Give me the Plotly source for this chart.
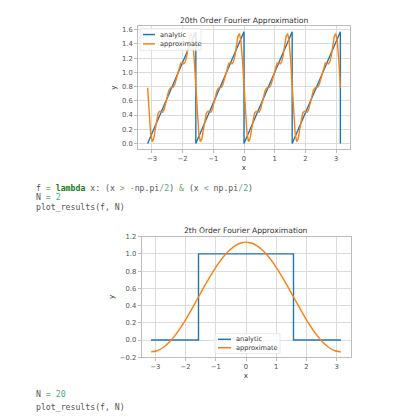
import plotly.graph_objects as go

# ---------------- data: chart 1 (20th order, sawtooth) ----------------
saw_x_analytic = [-3.1416, -1.5708, -1.5708, 0.0, 0.0, 1.5708, 1.5708, 3.1416, 3.1416]
saw_y_analytic = [0.0, 1.5708, 0.0, 1.5708, 0.0, 1.5708, 0.0, 1.5708, 0.0]

saw_x_approx = [
    -3.142, -3.093, -3.043, -2.994, -2.945, -2.896, -2.847, -2.798, -2.749, -2.700,
    -2.651, -2.601, -2.552, -2.503, -2.454, -2.405, -2.356, -2.307, -2.258, -2.209,
    -2.160, -2.111, -2.062, -2.013, -1.963, -1.914, -1.865, -1.816, -1.767, -1.718,
    -1.669, -1.620, -1.571, -1.522, -1.473, -1.424, -1.374, -1.325, -1.276, -1.227,
    -1.178, -1.129, -1.080, -1.031, -0.982, -0.933, -0.884, -0.834, -0.785, -0.736,
    -0.687, -0.638, -0.589, -0.540, -0.491, -0.442, -0.393, -0.344, -0.295, -0.245,
    -0.196, -0.147, -0.098, -0.049, 0.000, 0.049, 0.098, 0.147, 0.196, 0.245,
    0.295, 0.344, 0.393, 0.442, 0.491, 0.540, 0.589, 0.638, 0.687, 0.736,
    0.785, 0.834, 0.884, 0.933, 0.982, 1.031, 1.080, 1.129, 1.178, 1.227,
    1.276, 1.325, 1.374, 1.424, 1.473, 1.522, 1.571, 1.620, 1.669, 1.718,
    1.767, 1.816, 1.865, 1.914, 1.963, 2.013, 2.062, 2.111, 2.160, 2.209,
    2.258, 2.307, 2.356, 2.405, 2.454, 2.503, 2.552, 2.601, 2.651, 2.700,
    2.749, 2.798, 2.847, 2.896, 2.945, 2.994, 3.043, 3.093, 3.142,
]
saw_y_approx = [
    0.785, 0.411, 0.138, 0.025, 0.064, 0.195, 0.336, 0.426, 0.452, 0.441,
    0.439, 0.480, 0.564, 0.664, 0.742, 0.779, 0.785, 0.792, 0.829, 0.907,
    1.007, 1.091, 1.132, 1.130, 1.119, 1.145, 1.235, 1.376, 1.507, 1.546,
    1.433, 1.160,
    0.785, 0.411, 0.138, 0.025, 0.064, 0.195, 0.336, 0.426, 0.452, 0.441,
    0.439, 0.480, 0.564, 0.664, 0.742, 0.779, 0.785, 0.792, 0.829, 0.907,
    1.007, 1.091, 1.132, 1.130, 1.119, 1.145, 1.235, 1.376, 1.507, 1.546,
    1.433, 1.160,
    0.785, 0.411, 0.138, 0.025, 0.064, 0.195, 0.336, 0.426, 0.452, 0.441,
    0.439, 0.480, 0.564, 0.664, 0.742, 0.779, 0.785, 0.792, 0.829, 0.907,
    1.007, 1.091, 1.132, 1.130, 1.119, 1.145, 1.235, 1.376, 1.507, 1.546,
    1.433, 1.160,
    0.785, 0.411, 0.138, 0.025, 0.064, 0.195, 0.336, 0.426, 0.452, 0.441,
    0.439, 0.480, 0.564, 0.664, 0.742, 0.779, 0.785, 0.792, 0.829, 0.907,
    1.007, 1.091, 1.132, 1.130, 1.119, 1.145, 1.235, 1.376, 1.507, 1.546,
    1.433, 1.160,
    0.785,
]

# ---------------- data: chart 2 (2th order, square pulse) ----------------
sq_x_analytic = [-3.1416, -1.5708, -1.5708, 1.5708, 1.5708, 3.1416]
sq_y_analytic = [0.0, 0.0, 1.0, 1.0, 0.0, 0.0]

sq_x_approx = [-3.14, -2.94, -2.74, -2.54, -2.34, -2.14, -1.94, -1.74, -1.54, -1.34,
               -1.14, -0.94, -0.74, -0.54, -0.34, -0.14, 0.0, 0.14, 0.34, 0.54,
               0.74, 0.94, 1.14, 1.34, 1.54, 1.74, 1.94, 2.14, 2.34, 2.54,
               2.74, 2.94, 3.14]
sq_y_approx = [-0.137, -0.124, -0.086, -0.025, 0.057, 0.156, 0.270, 0.393, 0.520, 0.646,
               0.766, 0.875, 0.970, 1.046, 1.100, 1.130, 1.137, 1.130, 1.100, 1.046,
               0.970, 0.875, 0.766, 0.646, 0.520, 0.393, 0.270, 0.156, 0.057, -0.025,
               -0.086, -0.124, -0.137]

x_ticks = [-3, -2, -1, 0, 1, 2, 3]
y_ticks_1 = [0.0, 0.2, 0.4, 0.6, 0.8, 1.0, 1.2, 1.4, 1.6]
y_ticks_2 = [-0.2, 0.0, 0.2, 0.4, 0.6, 0.8, 1.0, 1.2]

titles = ["20th Order Fourier Approximation", "2th Order Fourier Approximation"]
series_names = ["analytic", "approximate"]

# ---------------- style ----------------
BLUE = "#1f77b4"
ORANGE = "#ff7f0e"
COLORS = [BLUE, ORANGE]
W, H = 399, 419
FONT = "DejaVu Sans"
MONO = "DejaVu Sans Mono"
TICK_COLOR = "#555555"
TEXT = "#333333"
GRID = "#dcdcdc"
SPINE = "#bdbdbd"


def px(v):
    return v / W


def py(v):
    return 1 - v / H


def fmt(v, d=1):
    return f"{v:.{d}f}".replace("-", "\u2212")


fig = go.Figure()

fig.add_trace(go.Scatter(x=saw_x_analytic, y=saw_y_analytic, mode="lines", name=series_names[0],
                         line=dict(color=BLUE, width=1.4), xaxis="x", yaxis="y"))
fig.add_trace(go.Scatter(x=saw_x_approx, y=saw_y_approx, mode="lines", name=series_names[1],
                         line=dict(color=ORANGE, width=1.4), xaxis="x", yaxis="y"))
fig.add_trace(go.Scatter(x=sq_x_analytic, y=sq_y_analytic, mode="lines", name=series_names[0],
                         line=dict(color=BLUE, width=1.4), xaxis="x2", yaxis="y2"))
fig.add_trace(go.Scatter(x=sq_x_approx, y=sq_y_approx, mode="lines", name=series_names[1],
                         line=dict(color=ORANGE, width=1.4, shape="spline"), xaxis="x2", yaxis="y2"))

axis_common = dict(
    showgrid=True, gridcolor=GRID, gridwidth=0.8,
    showline=True, linecolor=SPINE, linewidth=0.8, mirror=True,
    ticks="outside", ticklen=3, tickcolor=SPINE, tickwidth=0.8,
    tickfont=dict(family=FONT, size=6.8, color=TICK_COLOR),
    zeroline=False,
)

fig.update_layout(
    width=W, height=H,
    margin=dict(l=0, r=0, t=0, b=0),
    paper_bgcolor="white", plot_bgcolor="white",
    font=dict(family=FONT, color=TEXT),
    showlegend=False,
    xaxis=dict(domain=[px(130), px(342)], range=[-3.456, 3.456], anchor="y",
               tickvals=x_ticks, ticktext=[fmt(v, 0) for v in x_ticks],
               title=dict(text="x", font=dict(size=7.2, color=TEXT), standoff=1),
               **axis_common),
    yaxis=dict(domain=[py(139.7), py(14.5)], range=[-0.0785, 1.649], anchor="x",
               tickvals=y_ticks_1, ticktext=[fmt(v) for v in y_ticks_1],
               title=dict(text="y", font=dict(size=7.2, color=TEXT), standoff=4),
               **axis_common),
    xaxis2=dict(domain=[px(133.5), px(342.5)], range=[-3.456, 3.456], anchor="y2",
                tickvals=x_ticks, ticktext=[fmt(v, 0) for v in x_ticks],
                title=dict(text="x", font=dict(size=7.2, color=TEXT), standoff=1),
                **axis_common),
    yaxis2=dict(domain=[py(352), py(229)], range=[-0.2, 1.2007], anchor="x2",
                tickvals=y_ticks_2, ticktext=[fmt(v) for v in y_ticks_2],
                title=dict(text="y", font=dict(size=7.2, color=TEXT), standoff=4),
                **axis_common),
)

# chart titles
fig.add_annotation(text=titles[0], x=px(236), y=py(9), xref="paper", yref="paper",
                   showarrow=False, xanchor="center", yanchor="middle",
                   font=dict(family=FONT, size=7.6, color=TEXT))
fig.add_annotation(text=titles[1], x=px(238), y=py(223), xref="paper", yref="paper",
                   showarrow=False, xanchor="center", yanchor="middle",
                   font=dict(family=FONT, size=7.6, color=TEXT))


# legends (matplotlib-style boxes)
def add_legend(box, line_x0, line_x1, text_x, rows):
    x0, y0, x1, y1 = box
    fig.add_shape(type="rect", xref="paper", yref="paper",
                  x0=px(x0), x1=px(x1), y0=py(y1), y1=py(y0),
                  fillcolor="rgba(255,255,255,0.85)", line=dict(color="#e2e2e2", width=0.8),
                  layer="above")
    for (yy, name, col) in rows:
        fig.add_shape(type="line", xref="paper", yref="paper",
                      x0=px(line_x0), x1=px(line_x1), y0=py(yy), y1=py(yy),
                      line=dict(color=col, width=1.5), layer="above")
        fig.add_annotation(text=name, x=px(text_x), y=py(yy), xref="paper", yref="paper",
                           showarrow=False, xanchor="left", yanchor="middle",
                           font=dict(family=FONT, size=6.6, color=TEXT))


add_legend((132, 17, 193, 39), 135, 147, 150,
           [(23, series_names[0], COLORS[0]), (32.5, series_names[1], COLORS[1])])
add_legend((207, 328, 272, 348), 210, 223, 226,
           [(333.7, series_names[0], COLORS[0]), (342.3, series_names[1], COLORS[1])])

# notebook code cells
CODE = "#555555"
KW = "#1a801a"
OP = "#66aa66"
NUM = "#44aa88"
code_lines = [
    (179, f"f <span style='color:{OP}'>=</span> <span style='color:{KW}'><b>lambda</b></span> x: (x <span style='color:{OP}'>&gt;</span> <span style='color:{OP}'>-</span>np.pi<span style='color:{OP}'>/</span><span style='color:{NUM}'>2</span>) <span style='color:{OP}'>&amp;</span> (x <span style='color:{OP}'>&lt;</span> np.pi<span style='color:{OP}'>/</span><span style='color:{NUM}'>2</span>)"),
    (189, f"N <span style='color:{OP}'>=</span> <span style='color:{NUM}'>2</span>"),
    (199, "plot_results(f, N)"),
    (389, f"N <span style='color:{OP}'>=</span> <span style='color:{NUM}'>20</span>"),
    (403, "plot_results(f, N)"),
]
for yy, txt in code_lines:
    fig.add_annotation(text=txt, x=px(26), y=py(yy), xref="paper", yref="paper",
                       showarrow=False, xanchor="left", yanchor="middle", align="left",
                       font=dict(family=MONO, size=8.2, color=CODE))

fig.write_html("out.html")
